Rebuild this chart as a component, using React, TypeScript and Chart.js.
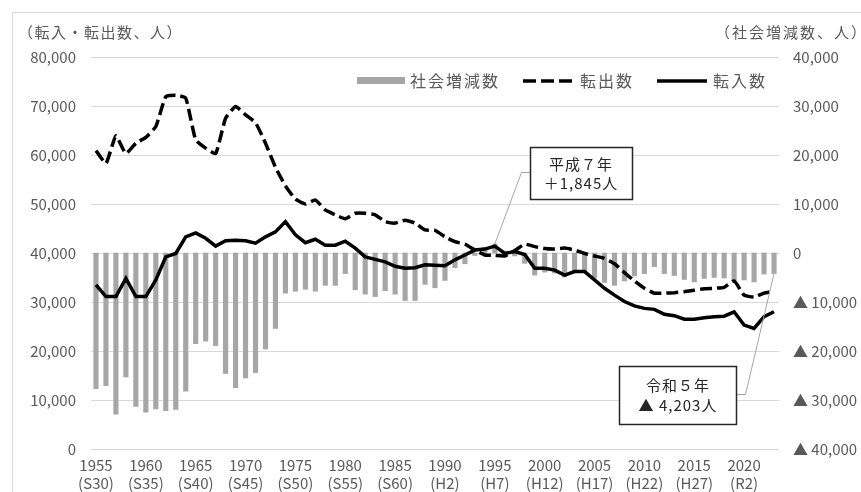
import React, { useEffect, useRef } from 'react';
import { Chart, registerables } from 'chart.js';

Chart.register(...registerables);

const years = [
  1955, 1956, 1957, 1958, 1959, 1960, 1961, 1962, 1963, 1964,
  1965, 1966, 1967, 1968, 1969, 1970, 1971, 1972, 1973, 1974,
  1975, 1976, 1977, 1978, 1979, 1980, 1981, 1982, 1983, 1984,
  1985, 1986, 1987, 1988, 1989, 1990, 1991, 1992, 1993, 1994,
  1995, 1996, 1997, 1998, 1999, 2000, 2001, 2002, 2003, 2004,
  2005, 2006, 2007, 2008, 2009, 2010, 2011, 2012, 2013, 2014,
  2015, 2016, 2017, 2018, 2019, 2020, 2021, 2022, 2023,
];

const tickYears = [1955, 1960, 1965, 1970, 1975, 1980, 1985, 1990, 1995, 2000, 2005, 2010, 2015, 2020];
const tickEras = ['(S30)', '(S35)', '(S40)', '(S45)', '(S50)', '(S55)', '(S60)', '(H2)', '(H7)', '(H12)', '(H17)', '(H22)', '(H27)', '(R2)'];

// 社会増減数 (right axis)
const socialChange = [
  -27700, -27100, -32900, -25300, -31300, -32500, -31800, -32200, -31900, -28200,
  -18500, -18000, -18900, -24600, -27500, -25500, -24400, -19600, -15400, -8200,
  -7800, -7400, -7800, -6600, -6600, -4200, -7500, -8400, -8900, -7700,
  -8400, -9700, -9700, -6400, -7100, -5600, -3000, -2200, -500, 1100,
  1845, 400, -600, -2100, -4500, -3900, -4100, -4900, -3900, -3700,
  -5000, -6000, -6600, -5700, -4700, -4200, -2800, -4200, -4600, -5400,
  -5900, -5200, -5000, -5100, -5600, -5500, -5900, -4300, -4203,
];

// 転出数 (left axis)
const outMigration = [
  60900, 58300, 63900, 60300, 62400, 63600, 65800, 71900, 72200, 71600,
  63100, 61400, 60300, 67500, 69900, 68200, 66600, 62400, 57500, 53700,
  51000, 50000, 50800, 48800, 47800, 47000, 48100, 48100, 47800, 46400,
  46100, 46700, 46100, 44700, 44600, 43300, 42300, 41800, 40600, 39600,
  39500, 39400, 40500, 41800, 41300, 40900, 40800, 41000, 40600, 39900,
  39400, 38900, 37800, 36000, 34300, 32800, 31800, 31800, 31900, 32100,
  32400, 32700, 32800, 33000, 34300, 31400, 31000, 31800, 32200,
];

// 転入数 (left axis)
const inMigration = [
  33500, 31100, 31100, 34800, 31100, 31100, 34500, 39200, 39900, 43300,
  44100, 43000, 41400, 42500, 42600, 42500, 42000, 43300, 44300, 46400,
  43700, 42100, 42800, 41600, 41600, 42400, 41000, 39200, 38700, 38200,
  37300, 36900, 37000, 37600, 37500, 37400, 38600, 39600, 40600, 40800,
  41400, 39900, 40300, 39700, 36900, 36900, 36500, 35500, 36200, 36200,
  34500, 32800, 31400, 30100, 29200, 28700, 28500, 27500, 27200, 26500,
  26500, 26800, 27000, 27100, 28000, 25300, 24600, 27000, 28000,
];

const seriesNames = ['社会増減数', '転出数', '転入数'];
const leftTitle = '（転入・転出数、人）';
const rightTitle = '（社会増減数、人）';
const note1Year = 1995;
const note1Lines = ['平成７年', '＋1,845人'];
const note2Year = 2023;
const note2Lines = ['令和５年', '▲ 4,203人'];

const FONT = "'Noto Sans CJK JP', 'Noto Sans', sans-serif";
const TEXT = '#595959';
const BAR = '#a6a6a6';
const DASH = [12, 5];

const decorPlugin = {
  id: 'decor',
  beforeDraw(chart: any) {
    const ctx = chart.ctx;
    ctx.save();
    ctx.fillStyle = '#ffffff';
    ctx.fillRect(0, 0, chart.width, chart.height);
    ctx.strokeStyle = '#d9d9d9';
    ctx.lineWidth = 1;
    ctx.strokeRect(12.5, 12.5, chart.width + 40, chart.height + 40);
    ctx.restore();
  },
  afterDraw(chart: any) {
    const ctx = chart.ctx;
    const xs = chart.scales.x;
    const y1 = chart.scales.y1;
    ctx.save();
    // axis titles
    ctx.font = `15px ${FONT}`;
    ctx.fillStyle = TEXT;
    ctx.textBaseline = 'middle';
    ctx.textAlign = 'left';
    (ctx as any).letterSpacing = '1.5px';
    ctx.fillText(leftTitle, 18, 32);
    (ctx as any).letterSpacing = '2px';
    ctx.fillText(rightTitle, 715, 32);

    // legend
    const ly = 81;
    (ctx as any).letterSpacing = '2px';
    ctx.font = `16px ${FONT}`;
    ctx.fillStyle = BAR;
    ctx.fillRect(357, 77, 48, 7);
    ctx.fillStyle = TEXT;
    ctx.fillText(seriesNames[0], 410, ly);
    ctx.strokeStyle = '#000';
    ctx.lineWidth = 3.5;
    ctx.setLineDash([13, 5]);
    ctx.beginPath();
    ctx.moveTo(523, ly);
    ctx.lineTo(573, ly);
    ctx.stroke();
    ctx.setLineDash([]);
    ctx.fillText(seriesNames[1], 580, ly);
    ctx.beginPath();
    ctx.moveTo(657, ly);
    ctx.lineTo(707, ly);
    ctx.stroke();
    ctx.fillText(seriesNames[2], 713, ly);

    ctx.font = `15px ${FONT}`;
    (ctx as any).letterSpacing = '1px';
    // annotation 1
    const i1 = years.indexOf(note1Year);
    const p1x = xs.getPixelForValue(i1);
    const p1y = y1.getPixelForValue(socialChange[i1]);
    ctx.strokeStyle = '#a6a6a6';
    ctx.lineWidth = 1;
    ctx.beginPath();
    ctx.moveTo(530, 172.5);
    ctx.lineTo(521.5, 172.5);
    ctx.lineTo(p1x, p1y);
    ctx.stroke();
    ctx.fillStyle = '#fff';
    ctx.fillRect(530, 147, 102, 52);
    ctx.strokeStyle = '#262626';
    ctx.lineWidth = 1.5;
    ctx.strokeRect(530.5, 147.5, 102, 52);
    ctx.fillStyle = '#262626';
    ctx.textAlign = 'center';
    ctx.fillText(note1Lines[0], 581, 164);
    ctx.fillText(note1Lines[1], 581, 183);

    // annotation 2
    const i2 = years.indexOf(note2Year);
    const p2x = xs.getPixelForValue(i2);
    const p2y = y1.getPixelForValue(socialChange[i2]);
    ctx.strokeStyle = '#a6a6a6';
    ctx.lineWidth = 1;
    ctx.beginPath();
    ctx.moveTo(736, 394.5);
    ctx.lineTo(745.5, 394.5);
    ctx.lineTo(p2x, p2y);
    ctx.stroke();
    ctx.fillStyle = '#fff';
    ctx.fillRect(619, 366, 117, 58);
    ctx.strokeStyle = '#262626';
    ctx.lineWidth = 1.5;
    ctx.strokeRect(619.5, 366.5, 117, 58);
    ctx.fillStyle = '#262626';
    ctx.fillText(note2Lines[0], 678, 385);
    ctx.fillText(note2Lines[1], 678, 405);
    ctx.restore();
  },
};

export default function App() {
  const canvasRef = useRef<HTMLCanvasElement | null>(null);

  useEffect(() => {
    document.body.style.margin = '0';
    const canvas = canvasRef.current;
    if (!canvas) return;
    Chart.defaults.font.family = FONT;
    Chart.defaults.font.size = 15;
    Chart.defaults.color = TEXT;

    const chart = new Chart(canvas, {
      type: 'bar',
      data: {
        labels: years.map(String),
        datasets: [
          {
            type: 'line',
            label: seriesNames[2],
            data: inMigration,
            yAxisID: 'y',
            borderColor: '#000000',
            backgroundColor: '#000000',
            borderWidth: 3.5,
            pointRadius: 0,
            tension: 0,
            order: 0,
          },
          {
            type: 'line',
            label: seriesNames[1],
            data: outMigration,
            yAxisID: 'y',
            borderColor: '#000000',
            backgroundColor: '#000000',
            borderWidth: 3.5,
            borderDash: DASH,
            pointRadius: 0,
            tension: 0.15,
            order: 1,
          },
          {
            type: 'bar',
            label: seriesNames[0],
            data: socialChange,
            yAxisID: 'y1',
            backgroundColor: BAR,
            borderWidth: 0,
            barThickness: 4.5,
            order: 2,
          },
        ],
      } as any,
      options: {
        animation: false,
        responsive: true,
        maintainAspectRatio: false,
        layout: { padding: { top: 57, bottom: 0, left: 0, right: 0 } },
        plugins: {
          legend: { display: false },
          tooltip: { enabled: false },
        },
        scales: {
          x: {
            offset: true,
            grid: { display: false, drawTicks: false },
            border: { display: false },
            afterFit: (s: any) => { s.height = 43; },
            ticks: {
              autoSkip: false,
              maxRotation: 0,
              minRotation: 0,
              padding: 7,
              color: TEXT,
              font: { size: 15, lineHeight: 1.2 },
              callback: (_v: any, idx: number) => {
                const k = tickYears.indexOf(years[idx]);
                return k >= 0 ? [String(tickYears[k]), tickEras[k]] : '';
              },
            },
          },
          y: {
            position: 'left',
            min: 0,
            max: 80000,
            grid: { color: '#d9d9d9', lineWidth: 1, drawTicks: false },
            border: { display: false },
            afterFit: (s: any) => { s.width = 91; },
            ticks: {
              stepSize: 10000,
              padding: 15,
              color: TEXT,
              callback: (v: any) => Number(v).toLocaleString('en-US'),
            },
          },
          y1: {
            position: 'right',
            min: -40000,
            max: 40000,
            grid: { display: false, drawTicks: false },
            border: { display: false },
            afterFit: (s: any) => { s.width = 82; },
            ticks: {
              stepSize: 10000,
              padding: 14,
              color: TEXT,
              callback: (v: any) => {
                const n = Number(v);
                return n < 0 ? '▲ ' + Math.abs(n).toLocaleString('en-US') : n.toLocaleString('en-US');
              },
            },
          },
        },
      } as any,
      plugins: [decorPlugin],
    });
    return () => chart.destroy();
  }, []);

  return (
    <div style={{ width: 861, height: 492, position: 'relative' }}>
      <canvas ref={canvasRef} />
    </div>
  );
}
